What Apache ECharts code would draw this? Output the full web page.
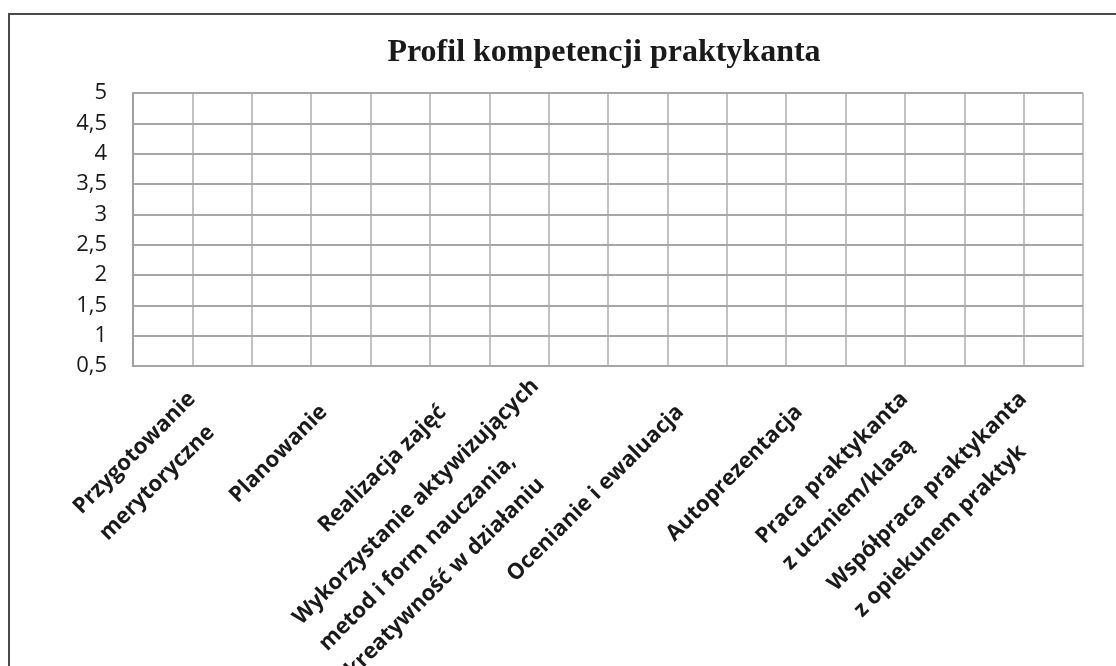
<!DOCTYPE html>
<html>
<head>
<meta charset="utf-8">
<script src="https://cdn.jsdelivr.net/npm/echarts@6/dist/echarts.min.js"></script>
<style>
html,body{margin:0;padding:0;background:#fff;}
#chart{width:1116px;height:666px;}
</style>
</head>
<body>
<div id="chart"></div>
<script>
// ---- data ----
const titleText = 'Profil kompetencji praktykanta';
const categories = [
  'Przygotowanie\nmerytoryczne',
  'Planowanie',
  'Realizacja zajęć',
  'Wykorzystanie aktywizujących\nmetod i form nauczania,\nkreatywność w działaniu',
  'Ocenianie i ewaluacja',
  'Autoprezentacja',
  'Praca praktykanta\nz uczniem/klasą',
  'Współpraca praktykanta\nz opiekunem praktyk'
];
// the profile in the reference is empty (no values filled in)
const values = [null, null, null, null, null, null, null, null];
const yMin = 0.5;
const yMax = 5;
const yStep = 0.5;

// ---- chart ----
const chart = echarts.init(document.getElementById('chart'), null, {renderer: 'canvas'});
const catData = categories.map((c, i) => [i + 0.5, values[i]]);

chart.setOption({
  animation: false,
  backgroundColor: '#ffffff',
  title: {
    text: titleText,
    left: 599,
    top: 32,
    textAlign: 'center',
    textStyle: {
      fontFamily: 'Liberation Serif',
      fontWeight: 'bold',
      fontSize: 32,
      color: '#1a1a1a'
    }
  },
  graphic: [{
    type: 'rect',
    shape: {x: 9, y: 14, width: 1200, height: 800},
    style: {fill: 'none', stroke: '#4a4a4a', lineWidth: 2},
    silent: true,
    z: 100
  }],
  grid: {
    left: 133,
    right: 33,
    top: 93,
    bottom: 300,
    containLabel: false,
    outerBoundsMode: 'none'
  },
  xAxis: {
    type: 'value',
    min: 0,
    max: categories.length,
    interval: 0.5,
    axisLine: {show: true, lineStyle: {color: '#a0a0a0', width: 2}},
    axisTick: {show: false},
    splitLine: {show: true, lineStyle: {color: '#c2c2c2', width: 2}},
    axisLabel: {
      show: true,
      rotate: 45,
      margin: 30,
      padding: [36, 0, 0, 0],
      showMinLabel: true,
      showMaxLabel: true,
      hideOverlap: false,
      formatter: function (v) {
        const k = v - 0.5;
        if (Math.abs(k - Math.round(k)) > 1e-6) return '';
        const c = categories[Math.round(k)];
        if (!c) return '';
        return c.split('\n').map(l => '{l|' + l + '}').join('\n');
      },
      rich: {
        l: {
          align: 'left',
          fontFamily: 'Open Sans',
          fontWeight: 'bold',
          fontSize: 22,
          lineHeight: 37,
          color: '#1a1a1a'
        }
      }
    }
  },
  yAxis: {
    type: 'value',
    min: yMin,
    max: yMax,
    interval: yStep,
    z: 2,
    axisLine: {show: true, lineStyle: {color: '#a0a0a0', width: 2}},
    axisTick: {show: false},
    splitLine: {show: true, lineStyle: {color: '#a6a6a6', width: 2}},
    axisLabel: {
      margin: 26,
      fontFamily: 'Open Sans',
      fontSize: 22,
      color: '#1a1a1a',
      formatter: v => String(v).replace('.', ',')
    }
  },
  series: [{
    type: 'line',
    name: 'Profil',
    data: catData,
    showSymbol: false,
    lineStyle: {color: '#4472c4', width: 2}
  }]
});
</script>
</body>
</html>
